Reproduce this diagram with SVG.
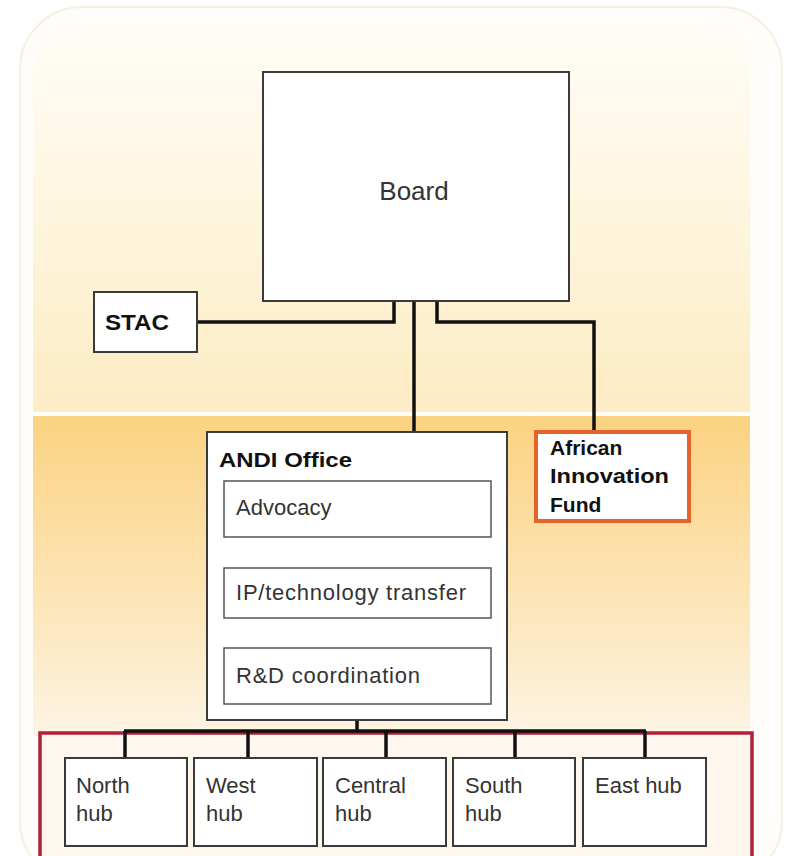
<svg xmlns="http://www.w3.org/2000/svg" width="786" height="856" viewBox="0 0 786 856">
  <defs>
    <linearGradient id="gTop" x1="0" y1="0" x2="0" y2="1">
      <stop offset="0" stop-color="#fffdf8"/>
      <stop offset="0.45" stop-color="#fef6e0"/>
      <stop offset="1" stop-color="#fdecc4"/>
    </linearGradient>
    <linearGradient id="gLow" x1="0" y1="0" x2="0" y2="1">
      <stop offset="0" stop-color="#fbd282"/>
      <stop offset="0.5" stop-color="#fce3b0"/>
      <stop offset="1" stop-color="#fdf4e4"/>
    </linearGradient>
  </defs>
  <style>
    .box { fill: #ffffff; stroke: #3a3a3a; stroke-width: 2; }
    .sub { fill: #ffffff; stroke: #555555; stroke-width: 1.5; }
    .bold { font-family: "Liberation Sans", Arial, sans-serif; font-weight: bold; fill: #111111; }
    .reg { font-family: "Liberation Sans", Arial, sans-serif; fill: #333333; }
    .conn { fill: none; stroke: #111111; stroke-width: 3.5; }
  </style>

  <rect x="0" y="0" width="786" height="856" fill="#ffffff"/>
  <rect id="frame" x="20" y="7" width="762" height="876" rx="62" ry="62" fill="#fffdf9" stroke="#f5efe2" stroke-width="2"/>
  <path id="topBand" d="M33 412 L33 80 Q33 20 90 20 L700 20 Q750 20 750 70 L750 412 Z" fill="url(#gTop)"/>
  <rect id="lowBand" x="33" y="416" width="717" height="320" fill="url(#gLow)"/>

  <g id="hubs">
    <rect x="40" y="733" width="712" height="130" fill="#fdf7ee" stroke="#b3203a" stroke-width="3.5"/>
  </g>

  <g id="connectors">
    <polyline class="conn" points="197,322 394,322 394,301"/>
    <line class="conn" x1="414" y1="301" x2="414" y2="432"/>
    <polyline class="conn" points="437,301 437,322 594,322 594,431"/>
    <line class="conn" x1="357" y1="704" x2="357" y2="731"/>
    <line class="conn" x1="124" y1="731" x2="646" y2="731" stroke-width="4"/>
    <line class="conn" x1="125" y1="731" x2="125" y2="758" stroke-width="3"/>
    <line class="conn" x1="248" y1="731" x2="248" y2="758" stroke-width="3"/>
    <line class="conn" x1="386" y1="731" x2="386" y2="758" stroke-width="3"/>
    <line class="conn" x1="515" y1="731" x2="515" y2="758" stroke-width="3"/>
    <line class="conn" x1="645" y1="731" x2="645" y2="758" stroke-width="3"/>
  </g>

  <g id="board">
    <rect class="box" x="263" y="72" width="306" height="229"/>
    <text class="reg" x="414" y="200" font-size="26" text-anchor="middle">Board</text>
  </g>

  <g id="stac">
    <rect class="box" x="94" y="292" width="103" height="60"/>
    <text class="bold" x="105" y="330" font-size="22" textLength="64" lengthAdjust="spacingAndGlyphs">STAC</text>
  </g>

  <g id="fund">
    <rect x="536" y="432" width="153" height="89" fill="#ffffff" stroke="#e5622a" stroke-width="4"/>
    <text class="bold" x="550" y="455" font-size="21">African</text>
    <text class="bold" x="550" y="483" font-size="21" textLength="119" lengthAdjust="spacingAndGlyphs">Innovation</text>
    <text class="bold" x="550" y="512" font-size="21">Fund</text>
  </g>

  <g id="andi">
    <rect class="box" x="207" y="432" width="300" height="288"/>
    <text class="bold" x="219" y="467" font-size="21" textLength="133" lengthAdjust="spacingAndGlyphs">ANDI Office</text>
  </g>
  <g id="advocacy">
    <rect class="sub" x="224" y="481" width="267" height="56"/>
    <text class="reg" x="236" y="515" font-size="22">Advocacy</text>
  </g>
  <g id="ip">
    <rect class="sub" x="224" y="568" width="267" height="50"/>
    <text class="reg" x="236" y="600" font-size="22" textLength="230">IP/technology transfer</text>
  </g>
  <g id="rd">
    <rect class="sub" x="224" y="648" width="267" height="56"/>
    <text class="reg" x="236" y="683" font-size="22" textLength="184">R&amp;D coordination</text>
  </g>

  <g id="north">
    <rect class="box" x="65" y="758" width="122" height="88"/>
    <text class="reg" x="76" y="793" font-size="22">North</text>
    <text class="reg" x="76" y="821" font-size="22">hub</text>
  </g>
  <g id="west">
    <rect class="box" x="194" y="758" width="123" height="88"/>
    <text class="reg" x="206" y="793" font-size="22">West</text>
    <text class="reg" x="206" y="821" font-size="22">hub</text>
  </g>
  <g id="central">
    <rect class="box" x="323" y="758" width="123" height="88"/>
    <text class="reg" x="335" y="793" font-size="22">Central</text>
    <text class="reg" x="335" y="821" font-size="22">hub</text>
  </g>
  <g id="south">
    <rect class="box" x="453" y="758" width="122" height="88"/>
    <text class="reg" x="465" y="793" font-size="22">South</text>
    <text class="reg" x="465" y="821" font-size="22">hub</text>
  </g>
  <g id="east">
    <rect class="box" x="583" y="758" width="123" height="88"/>
    <text class="reg" x="595" y="793" font-size="22">East hub</text>
  </g>
</svg>
